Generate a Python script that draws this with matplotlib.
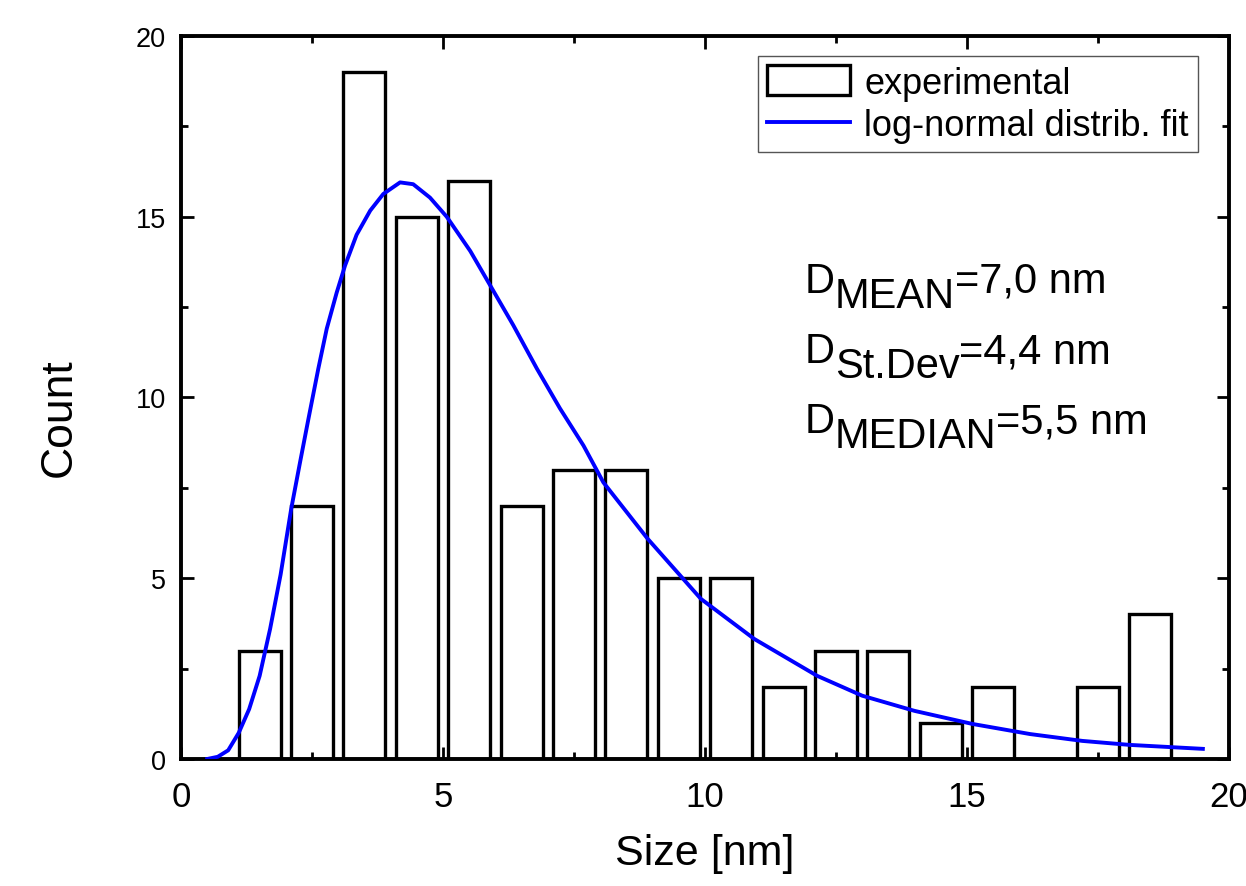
import numpy as np
import matplotlib.pyplot as plt
from matplotlib.ticker import MultipleLocator

plt.rcParams['font.family'] = ['Liberation Sans', 'DejaVu Sans']

# histogram of particle sizes (bin centres, nm) and counts
bin_centers = [1.5, 2.5, 3.5, 4.5, 5.5, 6.5, 7.5, 8.5, 9.5,
               10.5, 11.5, 12.5, 13.5, 14.5, 15.5, 16.5, 17.5, 18.5]
counts = [3, 7, 19, 15, 16, 7, 8, 8, 5, 5, 2, 3, 3, 1, 2, 0, 2, 4]

# log-normal fit curve
fit_x = [0.5, 0.7, 0.9, 1.1, 1.3, 1.5, 1.7, 1.9, 2.1, 2.27, 2.43, 2.62,
         2.78, 2.97, 3.13, 3.35, 3.61, 3.86, 4.18, 4.43, 4.75, 5.07, 5.52,
         5.9, 6.34, 6.79, 7.23, 7.68, 8.06, 8.9, 9.92, 10.94, 12.14, 13.0,
         14.0, 15.1, 16.2, 17.2, 18.1, 19.5]
fit_y = [0.0, 0.06, 0.24, 0.72, 1.38, 2.3, 3.6, 5.1, 6.9, 8.2, 9.4, 10.8,
         11.9, 12.9, 13.65, 14.5, 15.17, 15.63, 15.95, 15.9, 15.53, 15.0, 14.05,
         13.1, 12.0, 10.8, 9.7, 8.67, 7.65, 6.1, 4.43, 3.32, 2.3, 1.75,
         1.33, 0.97, 0.69, 0.50, 0.39, 0.28]

x_ticks = [0, 5, 10, 15, 20]
y_ticks = [0, 5, 10, 15, 20]

# stats text: (subscript, value)
stats = [("MEAN", "=7,0 nm"), ("St.Dev", "=4,4 nm"), ("MEDIAN", "=5,5 nm")]
stats_y = [12.92, 10.98, 9.04]

fig = plt.figure(figsize=(12.46, 8.87), dpi=100)
ax = fig.add_axes([0.1453, 0.1432, 0.8411, 0.8151])

bars = ax.bar(bin_centers, counts, width=0.8, facecolor='none', edgecolor='black',
              linewidth=2.4, label='experimental', zorder=2)
line, = ax.plot(fit_x, fit_y, color='#0000ff', lw=2.8, label='log-normal distrib. fit',
                zorder=3, solid_joinstyle='round')

ax.set_xlim(0, 20)
ax.set_ylim(0, 20)
ax.set_xticks(x_ticks)
ax.set_yticks(y_ticks)
ax.xaxis.set_minor_locator(MultipleLocator(2.5))
ax.yaxis.set_minor_locator(MultipleLocator(2.5))
ax.tick_params(which='both', direction='in', top=True, right=True, width=2)
ax.tick_params(which='major', length=9)
ax.tick_params(which='minor', length=5)
ax.tick_params(axis='x', labelsize=25, pad=15)
ax.tick_params(axis='y', labelsize=19.5, pad=11)

for sp in ax.spines.values():
    sp.set_linewidth(2.8)

ax.set_xlabel('Size [nm]', fontsize=31)
ax.set_ylabel('Count', fontsize=32)
ax.xaxis.set_label_coords(0.5, -0.102)
ax.yaxis.set_label_coords(-0.097, 0.474)

leg = ax.legend([bars, line], ['experimental', 'log-normal distrib. fit'],
                loc='upper right', bbox_to_anchor=(0.97, 0.972), fontsize=26,
                frameon=True, fancybox=False, edgecolor='#555555', framealpha=1,
                borderaxespad=0, handlelength=2.3, handleheight=0.9,
                handletextpad=0.4, labelspacing=0.2, borderpad=0.25)
leg.get_frame().set_linewidth(1.0)

for (sub, val), yy in zip(stats, stats_y):
    t1 = ax.text(11.9, yy, 'D', fontsize=30, va='baseline', ha='left')
    t2 = ax.annotate(sub, xy=(1, 0), xycoords=t1, xytext=(0, -11),
                     textcoords='offset points', fontsize=30, va='bottom', ha='left')
    ax.annotate(val, xy=(1, 0), xycoords=t2, xytext=(0, 11),
                textcoords='offset points', fontsize=30, va='bottom', ha='left')

fig.savefig('out.png', dpi=100)
